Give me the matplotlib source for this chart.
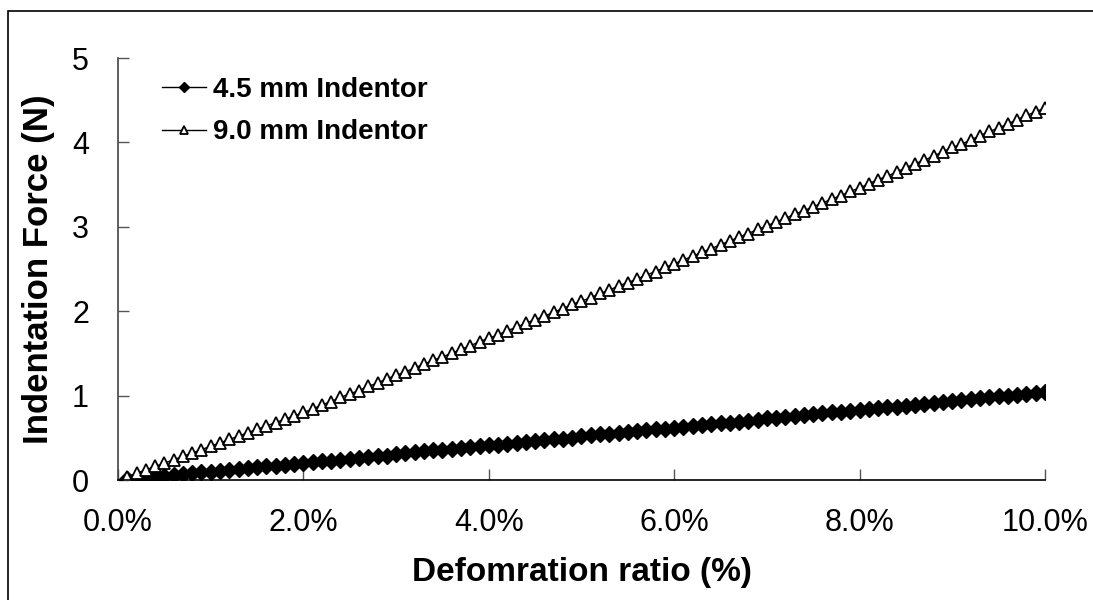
import numpy as np
import matplotlib
matplotlib.use("Agg")
import matplotlib.pyplot as plt
from matplotlib.ticker import PercentFormatter
from matplotlib.patches import Rectangle

plt.rcParams['font.family'] = ['Liberation Sans', 'DejaVu Sans']

# deformation ratio, 0.1% steps up to 10%
deform = np.arange(1, 101) / 1000

force_45 = [0.01, 0.02, 0.03, 0.04, 0.05, 0.06, 0.07, 0.08, 0.09, 0.10,
            0.11, 0.12, 0.13, 0.14, 0.15, 0.16, 0.17, 0.18, 0.19, 0.20,
            0.21, 0.22, 0.23, 0.24, 0.25, 0.26, 0.27, 0.28, 0.29, 0.31,
            0.32, 0.33, 0.34, 0.35, 0.36, 0.37, 0.38, 0.39, 0.40, 0.41,
            0.42, 0.43, 0.44, 0.45, 0.46, 0.47, 0.48, 0.49, 0.50, 0.52,
            0.53, 0.54, 0.55, 0.56, 0.57, 0.58, 0.59, 0.60, 0.61, 0.62,
            0.63, 0.64, 0.65, 0.66, 0.67, 0.68, 0.69, 0.70, 0.71, 0.73,
            0.74, 0.75, 0.76, 0.77, 0.78, 0.79, 0.80, 0.81, 0.82, 0.83,
            0.84, 0.85, 0.86, 0.87, 0.88, 0.89, 0.90, 0.91, 0.92, 0.94,
            0.95, 0.96, 0.97, 0.98, 0.99, 1.00, 1.01, 1.02, 1.03, 1.04]

force_90 = [0.04, 0.08, 0.12, 0.16, 0.20, 0.24, 0.28, 0.32, 0.36, 0.40,
            0.44, 0.48, 0.52, 0.56, 0.60, 0.64, 0.68, 0.72, 0.76, 0.80,
            0.84, 0.89, 0.93, 0.98, 1.02, 1.06, 1.11, 1.15, 1.20, 1.24,
            1.28, 1.33, 1.37, 1.42, 1.46, 1.50, 1.55, 1.59, 1.64, 1.68,
            1.72, 1.77, 1.81, 1.86, 1.90, 1.94, 1.99, 2.03, 2.08, 2.12,
            2.16, 2.21, 2.25, 2.30, 2.34, 2.38, 2.43, 2.47, 2.52, 2.56,
            2.61, 2.65, 2.70, 2.74, 2.79, 2.83, 2.88, 2.92, 2.97, 3.01,
            3.06, 3.10, 3.15, 3.19, 3.24, 3.28, 3.33, 3.37, 3.42, 3.46,
            3.51, 3.56, 3.60, 3.65, 3.70, 3.75, 3.79, 3.84, 3.89, 3.94,
            3.98, 4.03, 4.08, 4.13, 4.17, 4.22, 4.27, 4.32, 4.36, 4.41]

fig = plt.figure(figsize=(10.93, 6.0), dpi=100)
ax = fig.add_axes([0.108, 0.2, 0.848, 0.7033])

# outer chart border (right/bottom edges fall off the picture)
fig.patches.append(Rectangle((8 / 1093, -0.05), 1.2, 1 - 11 / 600 + 0.05,
                             transform=fig.transFigure, fill=False,
                             edgecolor='black', linewidth=1.2))

ax.plot(deform, force_45, color='black', linewidth=1, marker='D',
        markersize=8.5, markerfacecolor='black', markeredgecolor='black',
        label='4.5 mm Indentor')
ax.plot(deform, force_90, color='black', linewidth=1, marker='^',
        markersize=9, markerfacecolor='white', markeredgecolor='black',
        markeredgewidth=1.3, label='9.0 mm Indentor')

ax.set_xlim(0, 0.1)
ax.set_ylim(0, 5)
ax.set_xticks([0, 0.02, 0.04, 0.06, 0.08, 0.10])
ax.set_yticks([0, 1, 2, 3, 4, 5])
ax.xaxis.set_major_formatter(PercentFormatter(xmax=1, decimals=1))

for s in ['top', 'right']:
    ax.spines[s].set_visible(False)
for s in ['left', 'bottom']:
    ax.spines[s].set_color('black')
    ax.spines[s].set_linewidth(1.2)
ax.spines['left'].set_color('#444444')

ax.tick_params(axis='both', direction='in', length=8, width=1, color='#555555',
               labelsize=22)
ax.tick_params(axis='x', pad=20)
ax.tick_params(axis='y', pad=21)

ax.set_xlabel('Defomration ratio (%)', fontsize=24, fontweight='bold', labelpad=14)
ax.set_ylabel('Indentation Force (N)', fontsize=25, fontweight='bold', labelpad=12)

leg = ax.legend(loc='upper left', bbox_to_anchor=(0.02, 1.015), frameon=False,
                prop={'size': 20, 'weight': 'bold'}, handlelength=1.6,
                handletextpad=0.25, labelspacing=0.6, markerscale=0.65)

fig.savefig('out.png', dpi=100)
